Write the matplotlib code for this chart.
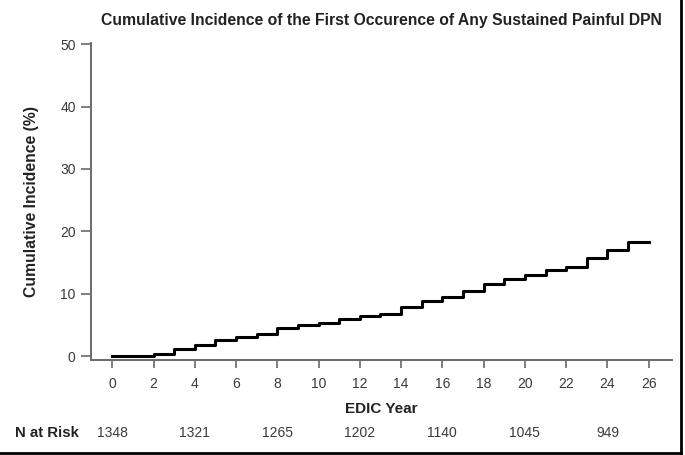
import matplotlib
matplotlib.use("Agg")
import matplotlib.pyplot as plt
from matplotlib.lines import Line2D
import matplotlib.transforms as mtransforms

# ---- data ----
years = list(range(0, 27))
incidence = [0, 0, 0.4, 1.2, 1.8, 2.5, 3.0, 3.6, 4.5, 5.0, 5.3, 6.0, 6.45, 6.75,
             7.85, 8.75, 9.4, 10.35, 11.6, 12.3, 13.05, 13.75, 14.2, 15.7, 16.95,
             18.3, 18.3]
x_ticks = list(range(0, 27, 2))
y_ticks = [0, 10, 20, 30, 40, 50]
risk_years = [0, 4, 8, 12, 16, 20, 24]
n_at_risk = [1348, 1321, 1265, 1202, 1140, 1045, 949]

title = "Cumulative Incidence of the First Occurence of Any Sustained Painful DPN"
xlabel = "EDIC Year"
ylabel = "Cumulative Incidence (%)"
risk_label = "N at Risk"

plt.rcParams['font.family'] = ['Liberation Sans', 'DejaVu Sans']

W, H = 685, 455
fig = plt.figure(figsize=(W / 100, H / 100), dpi=100)
ax = fig.add_axes([91 / W, 1 - 360 / H, (672 - 91) / W, (360 - 43) / H])

ax.plot(years, incidence, drawstyle='steps-post', color='black', lw=2.2)

ax.set_xlim(-1.03, 27.13)
ax.set_ylim(-0.64, 50.2)
ax.set_xticks(x_ticks)
ax.set_yticks(y_ticks)

axis_gray = '#6a6a6a'
for s in ['top', 'right']:
    ax.spines[s].set_visible(False)
for s in ['left', 'bottom']:
    ax.spines[s].set_color(axis_gray)
    ax.spines[s].set_linewidth(1.4)

ax.tick_params(axis='both', colors=axis_gray, labelcolor='#3a3a3a',
               labelsize=10, width=1.2)
ax.tick_params(axis='y', length=7, pad=4)
ax.tick_params(axis='x', length=6, pad=6)

ax.set_title(title, fontsize=11.3, fontweight='bold', color='#222222', pad=13)
ax.set_xlabel(xlabel, fontsize=11, fontweight='bold', color='#222222', labelpad=8)
ax.set_ylabel(ylabel, fontsize=11.3, fontweight='bold', color='#222222', labelpad=15)

# N at risk row
trans = mtransforms.blended_transform_factory(ax.transData, fig.transFigure)
y_risk = 1 - 433 / H
for yr, n in zip(risk_years, n_at_risk):
    ax.text(yr, y_risk, str(n), transform=trans, ha='center', va='center',
            fontsize=10, color='#3a3a3a')
fig.text(15 / W, y_risk, risk_label, ha='left', va='center', fontsize=10.8,
         fontweight='bold', color='#222222')

# outer frame (right and bottom edges visible)
fig.add_artist(Line2D([0, 681 / W], [1 - 453 / H, 1 - 453 / H],
                      transform=fig.transFigure, color='black', lw=2))
fig.add_artist(Line2D([681 / W, 681 / W], [1 - 453 / H, 1],
                      transform=fig.transFigure, color='black', lw=2))

fig.savefig('out.png', dpi=100)
